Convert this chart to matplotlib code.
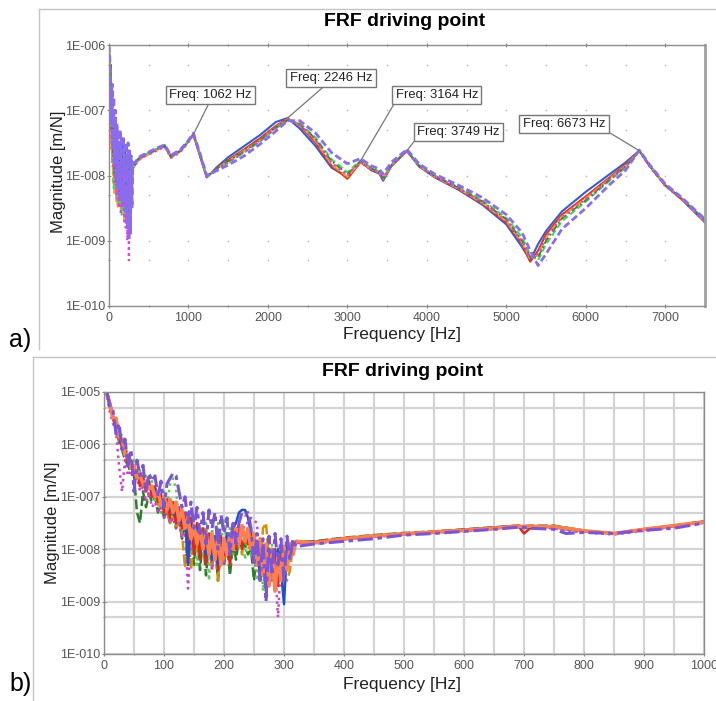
import matplotlib
matplotlib.use('Agg')
import matplotlib.pyplot as plt
import numpy as np
from matplotlib.lines import Line2D
from matplotlib.ticker import MultipleLocator, LogLocator, FuncFormatter, NullFormatter

plt.rcParams['font.family'] = 'Liberation Sans'

# ---------------- panel a: 0 - 7500 Hz (log10 of magnitude, m/N) ----------------
freq_a = [0, 10, 20, 30, 40, 50, 60, 70, 80, 90, 100, 110, 120, 130, 140, 150,
          160, 170, 180, 190, 200, 210, 220, 230, 240, 250, 260, 270, 280, 290, 300,
          330, 360, 400, 500, 600, 700, 780, 900, 1000, 1062,
          1150, 1230, 1350, 1500, 1700, 1900, 2100, 2246, 2400, 2600,
          2800, 3000, 3164, 3300, 3400, 3450, 3550, 3749, 3900, 4100,
          4400, 4700, 5000, 5200, 5300, 5400, 5500, 5700, 6000, 6300,
          6500, 6673, 6800, 7000, 7200, 7500]

blue_a = [-6.05, -6.4, -6.3, -7.0, -6.7, -7.5, -7.0, -7.9, -7.2, -8.0, -7.35, -8.3, -7.5, -8.4, -7.6, -8.2,
          -7.5, -8.5, -7.7, -8.3, -7.6, -8.7, -7.7, -8.6, -7.8, -8.95, -7.7, -8.4, -7.9, -8.1, -7.85,
          -7.82, -7.76, -7.72, -7.66, -7.60, -7.55, -7.72, -7.62, -7.47, -7.37,
          -7.72, -8.03, -7.88, -7.72, -7.55, -7.38, -7.18, -7.12, -7.28, -7.55,
          -7.88, -8.02, -7.78, -7.92, -7.97, -8.08, -7.86, -7.62, -7.86, -8.03,
          -8.22, -8.45, -8.75, -9.10, -9.30, -9.05, -8.85, -8.55, -8.25, -7.98,
          -7.80, -7.62, -7.84, -8.15, -8.36, -8.72]
red_a = [-6.1, -6.3, -6.8, -6.6, -7.4, -7.0, -8.0, -7.2, -8.2, -7.4, -8.1, -7.5, -8.4, -7.6, -8.3, -7.6,
         -8.5, -7.7, -8.4, -7.7, -8.6, -7.8, -8.5, -7.8, -8.8, -7.9, -8.7, -7.8, -8.5, -7.9, -7.88,
         -7.83, -7.77, -7.73, -7.67, -7.60, -7.54, -7.71, -7.62, -7.48, -7.37,
         -7.71, -8.02, -7.90, -7.76, -7.60, -7.43, -7.24, -7.13, -7.23, -7.50,
         -7.85, -8.05, -7.80, -7.91, -7.96, -8.06, -7.86, -7.62, -7.85, -8.02,
         -8.21, -8.43, -8.72, -9.05, -9.32, -9.15, -8.90, -8.60, -8.32, -8.03,
         -7.83, -7.62, -7.85, -8.15, -8.35, -8.70]
orange_a = [-6.1, -6.5, -6.6, -7.6, -6.9, -8.1, -7.1, -8.3, -7.2, -8.4, -7.4, -8.5, -7.5, -8.3, -7.6, -8.6,
            -7.6, -8.5, -7.7, -8.7, -7.7, -8.6, -7.8, -8.8, -7.8, -8.7, -7.9, -8.9, -7.9, -8.3, -7.87,
            -7.84, -7.78, -7.74, -7.67, -7.61, -7.56, -7.72, -7.63, -7.48, -7.37,
            -7.70, -8.01, -7.90, -7.78, -7.62, -7.46, -7.26, -7.14, -7.22, -7.47,
            -7.83, -8.02, -7.79, -7.90, -7.95, -8.05, -7.85, -7.62, -7.85, -8.02,
            -8.20, -8.42, -8.70, -9.03, -9.28, -9.22, -8.95, -8.63, -8.35, -8.05,
            -7.85, -7.62, -7.85, -8.16, -8.36, -8.70]
green_a = [-6.1, -6.4, -7.0, -6.8, -7.8, -7.1, -8.2, -7.3, -7.9, -7.4, -8.3, -7.5, -8.5, -7.5, -8.4, -7.6,
           -8.6, -7.7, -8.3, -7.7, -8.5, -7.8, -8.7, -7.8, -8.6, -7.9, -8.8, -7.9, -8.4, -7.95, -7.9,
           -7.82, -7.75, -7.71, -7.65, -7.59, -7.53, -7.70, -7.61, -7.47, -7.36,
           -7.70, -8.02, -7.91, -7.80, -7.65, -7.48, -7.28, -7.16, -7.20, -7.42,
           -7.75, -7.95, -7.77, -7.88, -7.94, -8.04, -7.84, -7.62, -7.84, -8.00,
           -8.18, -8.38, -8.65, -8.95, -9.22, -9.30, -9.05, -8.70, -8.40, -8.08,
           -7.88, -7.62, -7.84, -8.14, -8.34, -8.68]
dkgreen_a = [-6.15, -6.5, -6.7, -7.3, -7.0, -7.7, -7.2, -8.0, -7.3, -8.1, -7.5, -8.2, -7.5, -8.3, -7.6, -8.2,
             -7.7, -8.4, -7.7, -8.3, -7.8, -8.5, -7.8, -8.4, -7.9, -8.6, -7.9, -8.5, -7.9, -8.0, -7.88,
             -7.83, -7.76, -7.72, -7.66, -7.60, -7.54, -7.71, -7.62, -7.48, -7.37,
             -7.71, -8.02, -7.90, -7.78, -7.63, -7.46, -7.26, -7.15, -7.21, -7.44,
             -7.78, -7.98, -7.78, -7.89, -7.95, -8.05, -7.85, -7.62, -7.85, -8.01,
             -8.19, -8.40, -8.67, -9.00, -9.25, -9.25, -9.00, -8.66, -8.38, -8.06,
             -7.86, -7.62, -7.85, -8.15, -8.35, -8.69]
magenta_a = [-6.2, -6.6, -6.9, -7.5, -7.1, -7.9, -7.3, -8.1, -7.4, -8.3, -7.5, -8.4, -7.6, -8.5, -7.6, -8.6,
             -7.7, -8.5, -7.8, -8.7, -7.8, -8.8, -7.9, -9.0, -7.9, -9.3, -8.0, -8.9, -8.0, -8.2, -7.88,
             -7.84, -7.78, -7.74, -7.68, -7.62, -7.56, -7.73, -7.64, -7.49, -7.38,
             -7.71, -8.02, -7.92, -7.80, -7.64, -7.47, -7.27, -7.15, -7.22, -7.46,
             -7.80, -8.00, -7.79, -7.90, -7.96, -8.06, -7.86, -7.63, -7.86, -8.02,
             -8.20, -8.41, -8.69, -9.02, -9.27, -9.20, -8.95, -8.64, -8.36, -8.06,
             -7.86, -7.63, -7.86, -8.16, -8.36, -8.71]
purple_a = [-6.0, -6.2, -6.5, -7.2, -6.6, -7.6, -6.8, -7.8, -7.0, -8.0, -7.2, -8.2, -7.3, -8.4, -7.3, -8.3,
            -7.4, -8.5, -7.4, -8.4, -7.5, -8.6, -7.5, -8.8, -7.5, -9.0, -7.6, -8.9, -7.7, -8.5, -7.8,
            -7.80, -7.74, -7.70, -7.64, -7.58, -7.53, -7.69, -7.60, -7.46, -7.35,
            -7.68, -8.00, -7.93, -7.84, -7.70, -7.52, -7.32, -7.16, -7.16, -7.35,
            -7.65, -7.82, -7.74, -7.85, -7.90, -7.98, -7.80, -7.60, -7.82, -7.98,
            -8.15, -8.34, -8.60, -8.88, -9.15, -9.38, -9.20, -8.82, -8.50, -8.14,
            -7.92, -7.61, -7.83, -8.13, -8.33, -8.67]

peak_freqs = [1062, 2246, 3164, 3749, 6673]

# ---------------- panel b: 0 - 1000 Hz ----------------
freq_b = [5, 10, 15, 20, 25, 30, 35, 40, 45, 50, 55, 60, 65, 70, 75, 80,
          85, 90, 95, 100, 105, 110, 115, 120, 125, 130, 135, 140, 145, 150, 155, 160,
          165, 170, 175, 180, 185, 190, 195, 200, 205, 210, 215, 220, 225, 230, 235, 240,
          245, 250, 255, 260, 265, 270, 275, 280, 285, 290, 295, 300, 305, 310, 315, 320,
          350, 400, 450, 500, 550, 600, 650, 690, 700, 710, 750, 770, 800, 850, 900, 950, 1000]

coral_b = [-5.05, -5.25, -5.5, -5.5, -5.85, -5.9, -6.2, -6.2, -6.45, -6.4, -6.65, -6.6, -6.75, -6.7, -6.85, -6.8,
           -7.0, -6.9, -7.15, -7.0, -7.25, -7.05, -7.3, -7.1, -7.45, -7.25, -7.6, -7.4, -7.8, -7.55, -7.9, -7.6,
           -8.0, -7.65, -8.1, -7.7, -8.2, -7.75, -8.3, -7.8, -8.1, -7.7, -8.0, -7.6, -7.9, -7.55, -7.85, -7.6,
           -8.0, -7.7, -8.3, -7.8, -8.5, -7.9, -8.7, -8.0, -8.8, -8.1, -8.6, -7.95, -8.4, -7.9, -8.1, -7.85,
           -7.88, -7.8, -7.75, -7.71, -7.67, -7.64, -7.6, -7.56, -7.57, -7.56, -7.57, -7.6, -7.65, -7.7, -7.62, -7.55, -7.48]
purple_b = [-5.0, -5.3, -5.35, -5.8, -5.6, -6.1, -5.9, -6.4, -6.1, -6.9, -6.3, -6.6, -6.4, -6.9, -6.55, -6.7,
            -6.6, -7.0, -6.7, -7.2, -6.75, -6.65, -6.55, -6.6, -6.9, -7.2, -7.0, -7.5, -7.1, -7.6, -7.2, -7.7,
            -7.3, -7.9, -7.25, -7.6, -7.3, -8.0, -7.35, -7.7, -7.4, -8.1, -7.45, -7.9, -7.5, -7.3, -7.35, -7.3,
            -7.6, -8.3, -7.7, -8.6, -7.8, -9.0, -7.75, -8.5, -7.7, -8.3, -7.8, -8.6, -7.75, -8.2, -7.8, -7.95,
            -7.9, -7.85, -7.8, -7.73, -7.7, -7.66, -7.62, -7.58, -7.58, -7.6, -7.62, -7.7, -7.68, -7.7, -7.64, -7.6, -7.5]
blue_b = [-5.0, -5.2, -5.45, -5.6, -5.8, -6.0, -6.15, -6.25, -6.35, -6.45, -6.6, -6.65, -6.7, -6.8, -6.8, -6.9,
          -6.85, -7.0, -7.0, -7.2, -7.1, -7.25, -7.2, -7.35, -7.3, -7.5, -7.4, -8.3, -7.5, -7.7, -7.6, -7.9,
          -7.7, -8.1, -7.8, -8.2, -7.75, -8.3, -7.85, -8.0, -7.7, -7.9, -7.6, -7.5, -7.3, -7.25, -7.25, -7.4,
          -7.7, -8.0, -8.2, -8.4, -8.1, -8.7, -8.0, -8.5, -8.3, -8.0, -8.4, -9.05, -7.95, -7.9, -7.88, -7.86,
          -7.87, -7.8, -7.76, -7.71, -7.68, -7.64, -7.6, -7.56, -7.6, -7.57, -7.58, -7.62, -7.66, -7.7, -7.62, -7.55, -7.47]
red_b = [-5.0, -5.3, -5.5, -5.7, -5.85, -6.05, -6.1, -6.35, -6.3, -6.6, -6.5, -6.8, -6.6, -6.9, -6.7, -7.0,
         -6.8, -7.1, -6.95, -7.3, -7.05, -7.4, -7.1, -7.5, -7.2, -7.6, -7.3, -7.9, -7.4, -8.1, -7.5, -8.2,
         -7.6, -8.3, -7.7, -8.2, -7.8, -8.4, -7.75, -8.1, -7.8, -8.3, -7.7, -8.0, -7.65, -8.0, -7.7, -7.9,
         -7.9, -8.2, -7.95, -8.5, -8.0, -8.6, -8.1, -8.4, -8.0, -8.7, -8.1, -8.3, -7.9, -8.0, -7.88, -7.87,
         -7.86, -7.79, -7.74, -7.7, -7.67, -7.63, -7.59, -7.55, -7.7, -7.6, -7.56, -7.6, -7.66, -7.7, -7.63, -7.56, -7.48]
green_b = [-5.1, -5.3, -5.55, -5.5, -5.9, -5.8, -6.2, -6.1, -6.5, -6.3, -6.7, -6.5, -6.8, -6.6, -6.9, -6.7,
           -7.1, -6.85, -7.3, -6.9, -7.2, -6.75, -6.65, -6.85, -7.5, -7.3, -7.8, -7.5, -8.1, -7.6, -8.3, -7.7,
           -8.1, -7.5, -8.6, -7.6, -8.2, -7.5, -7.8, -7.45, -7.9, -7.6, -8.1, -7.7, -8.0, -7.6, -8.2, -7.7,
           -8.1, -7.8, -8.6, -7.9, -8.8, -8.0, -8.4, -7.9, -8.7, -8.1, -8.5, -8.0, -8.2, -7.92, -7.9, -7.88,
           -7.88, -7.82, -7.76, -7.72, -7.68, -7.65, -7.6, -7.57, -7.56, -7.57, -7.56, -7.58, -7.64, -7.7, -7.63, -7.56, -7.49]
dkgreen_b = [-5.05, -5.25, -5.5, -5.7, -5.95, -6.1, -6.3, -6.4, -6.55, -6.6, -7.3, -7.5, -6.9, -7.2, -6.95, -7.1,
             -7.0, -7.3, -7.1, -7.4, -7.2, -7.5, -7.3, -7.6, -7.4, -7.8, -7.5, -7.95, -7.6, -8.3, -7.7, -8.4,
             -7.8, -8.5, -7.85, -8.2, -7.9, -8.6, -7.95, -8.3, -7.9, -8.5, -7.85, -8.2, -7.8, -8.0, -7.9, -8.1,
             -8.0, -8.6, -8.05, -8.4, -8.1, -8.8, -8.0, -8.5, -8.1, -8.3, -8.0, -8.4, -7.9, -8.0, -7.88, -7.86,
             -7.85, -7.78, -7.73, -7.69, -7.66, -7.62, -7.58, -7.55, -7.56, -7.55, -7.55, -7.59, -7.65, -7.7, -7.62, -7.55, -7.47]
gold_b = [-5.0, -5.3, -5.5, -5.7, -5.9, -6.05, -6.2, -6.3, -6.45, -6.5, -6.6, -6.7, -6.8, -6.85, -6.95, -7.0,
          -7.0, -7.15, -7.2, -7.3, -7.3, -7.5, -7.4, -7.6, -7.5, -7.7, -8.35, -7.6, -8.4, -7.7, -8.0, -7.8,
          -7.9, -8.2, -7.8, -8.4, -7.9, -8.6, -7.95, -8.2, -7.8, -8.3, -7.7, -8.0, -7.75, -8.1, -7.7, -8.0,
          -7.9, -8.3, -8.0, -8.5, -7.6, -7.5, -8.2, -8.6, -8.0, -8.3, -8.2, -8.5, -8.6, -8.4, -7.9, -7.88,
          -7.88, -7.8, -7.75, -7.71, -7.67, -7.64, -7.6, -7.57, -7.57, -7.56, -7.57, -7.6, -7.65, -7.7, -7.62, -7.55, -7.49]
magenta_b = [-5.1, -5.4, -5.6, -5.75, -6.4, -6.9, -6.3, -6.6, -6.5, -6.7, -6.6, -6.9, -6.8, -7.1, -6.9, -7.2,
             -7.1, -7.3, -7.2, -7.4, -7.3, -7.5, -7.4, -7.6, -7.5, -7.8, -7.6, -8.75, -7.7, -8.0, -7.8, -8.1,
             -7.9, -8.2, -7.9, -8.4, -7.95, -8.2, -7.9, -8.3, -7.8, -8.0, -7.7, -7.8, -7.6, -7.7, -7.5, -7.5,
             -7.4, -7.45, -7.5, -8.4, -8.0, -8.7, -8.1, -8.6, -8.3, -9.3, -8.2, -8.4, -8.0, -7.92, -7.9, -7.88,
             -7.9, -7.82, -7.77, -7.72, -7.69, -7.66, -7.62, -7.58, -7.58, -7.6, -7.6, -7.65, -7.68, -7.72, -7.65, -7.58, -7.5]

title = 'FRF driving point'
xlabel = 'Frequency [Hz]'
ylabel = 'Magnitude [m/N]'


def sci_label(v, pos):
    return '1E-%03d' % int(round(-np.log10(v)))


W, H = 716, 701
fig = plt.figure(figsize=(W / 100, H / 100), dpi=100)
ax_a = fig.add_axes([109 / W, 1 - 306 / H, 596 / W, 261 / H])
ax_b = fig.add_axes([104 / W, 1 - 654 / H, 600 / W, 262 / H])

for ax in (ax_a, ax_b):
    ax.set_yscale('log')
    ax.yaxis.set_major_locator(LogLocator(base=10, numticks=12))
    ax.yaxis.set_minor_locator(LogLocator(base=10, subs=[5.0], numticks=12))
    ax.yaxis.set_major_formatter(FuncFormatter(sci_label))
    ax.yaxis.set_minor_formatter(NullFormatter())
    ax.tick_params(which='both', labelsize=9, labelcolor='#555555', color='#888888',
                   direction='inout', length=3, width=0.8)
    ax.tick_params(axis='x', pad=2.5)
    ax.tick_params(axis='y', pad=1)
    ax.tick_params(which='minor', length=2)
    for s in ax.spines.values():
        s.set_color('#8c8c8c')
        s.set_linewidth(1.0)

# panel a
ax_a.set_xlim(0, 7500)
ax_a.set_ylim(1e-10, 1e-6)
ax_a.xaxis.set_major_locator(MultipleLocator(1000))
ax_a.xaxis.set_minor_locator(MultipleLocator(500))
ax_a.tick_params(which='both', top=True)
ax_a.spines['right'].set_linewidth(2.0)
ax_a.spines['right'].set_color('#a0a0a0')

gx, gy = np.meshgrid(np.arange(500, 7500, 500), [5e-10, 1e-9, 5e-9, 1e-8, 5e-8, 1e-7, 5e-7])
ax_a.scatter(gx.ravel(), gy.ravel(), s=1.5, color='#bdbdbd', lw=0, zorder=0)

series_a = [(blue_a, '#2f5fd6', '-', 1.5), (red_a, '#e8321e', '-', 1.5),
            (orange_a, '#f5a623', (0, (4, 1.5)), 1.5), (green_a, '#52d152', (0, (3, 1.5)), 1.5),
            (dkgreen_a, '#2e8b2e', (0, (4, 1.5, 1, 1.5)), 1.3), (magenta_a, '#e83ee8', ':', 1.6),
            (purple_a, '#8a6cf0', (0, (2.5, 1.2)), 2.0)]
for vals, col, ls, lw in series_a:
    ax_a.plot(freq_a, 10 ** np.array(vals), color=col, ls=ls, lw=lw)

# annotation boxes (axes fraction) and where the leader leaves the box
box_pos = [(0.1695, 0.808), (0.3725, 0.874), (0.5503, 0.808), (0.5856, 0.667), (0.7634, 0.697)]
rel_pos = [(0.5, 0.0), (0.45, 0.0), (0.0, 0.0), (0.0, 0.0), (1.0, 0.0)]
for f, bp, rp in zip(peak_freqs, box_pos, rel_pos):
    mag = 10 ** blue_a[freq_a.index(f)]
    ax_a.annotate('Freq: %d Hz' % f, xy=(f, mag), xytext=bp, textcoords='axes fraction',
                  ha='center', va='center', fontsize=9.4, color='#222222',
                  bbox=dict(boxstyle='square,pad=0.25', fc='white', ec='#777777', lw=1.0),
                  arrowprops=dict(arrowstyle='-', color='#777777', lw=0.9,
                                  relpos=rp, shrinkA=0, shrinkB=0))

# panel b
ax_b.set_xlim(0, 1000)
ax_b.set_ylim(1e-10, 1e-5)
ax_b.xaxis.set_major_locator(MultipleLocator(100))
ax_b.xaxis.set_minor_locator(MultipleLocator(50))
ax_b.grid(which='both', color='#d4d4d4', lw=1.6)
ax_b.set_axisbelow(True)

series_b = [(dkgreen_b, '#2e7d2e', (0, (4, 1.5)), 1.8), (gold_b, '#d4900a', (0, (4, 1.5)), 1.8),
            (green_b, '#5ccc4c', ':', 1.8), (magenta_b, '#d040d0', ':', 1.8),
            (red_b, '#d62a1e', '-', 1.8), (blue_b, '#2050d0', '-', 1.8),
            (coral_b, '#ff7f50', '-', 2.6), (purple_b, '#7b55d6', (0, (5, 1.5, 1.5, 1.5)), 2.2)]
for vals, col, ls, lw in series_b:
    ax_b.plot(freq_b, 10 ** np.array(vals), color=col, ls=ls, lw=lw)

# texts
fig.text(405 / W, 1 - 22 / H, title, fontsize=14, fontweight='bold', ha='center', va='center')
fig.text(403 / W, 1 - 371 / H, title, fontsize=14, fontweight='bold', ha='center', va='center')
fig.text(402 / W, 1 - 334 / H, xlabel, fontsize=12.5, ha='center', va='center', color='#222222')
fig.text(402 / W, 1 - 685 / H, xlabel, fontsize=12.5, ha='center', va='center', color='#222222')
fig.text(58 / W, 1 - 172 / H, ylabel, fontsize=12, rotation=90, ha='center', va='center', color='#222222')
fig.text(52 / W, 1 - 523 / H, ylabel, fontsize=12, rotation=90, ha='center', va='center', color='#222222')
fig.text(20 / W, 1 - 340 / H, 'a)', fontsize=18, ha='center', va='center')
fig.text(21 / W, 1 - 684 / H, 'b)', fontsize=18, ha='center', va='center')

# panel frames
for x0, y0, y1 in [(39, 9, 349), (33, 357, 701)]:
    fig.add_artist(Line2D([x0 / W, x0 / W], [1 - y0 / H, 1 - y1 / H], color='#c4c4c4', lw=1.0))
    fig.add_artist(Line2D([x0 / W, 1.0], [1 - y0 / H, 1 - y0 / H], color='#c4c4c4', lw=1.0))

fig.savefig('out.png', dpi=100)
